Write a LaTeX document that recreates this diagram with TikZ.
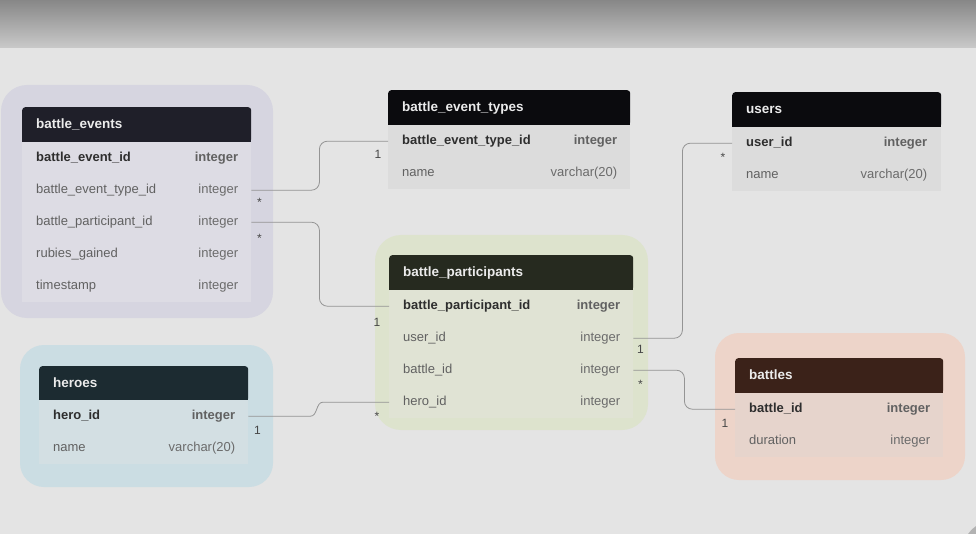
\documentclass[tikz,border=0pt]{standalone}
\usepackage{fontspec}
\setmainfont{Liberation Sans}
\usetikzlibrary{calc}

\definecolor{bg}{HTML}{E4E4E4}
\definecolor{grpA}{HTML}{D6D5E0}
\definecolor{bdA}{HTML}{DDDCE4}
\definecolor{hdA}{HTML}{1F1F29}
\definecolor{bdB}{HTML}{DCDCDC}
\definecolor{hdB}{HTML}{0B0B0E}
\definecolor{grpC}{HTML}{DDE3CD}
\definecolor{bdC}{HTML}{E0E3D4}
\definecolor{hdC}{HTML}{262A1F}
\definecolor{grpD}{HTML}{CBDDE3}
\definecolor{bdD}{HTML}{D3DFE3}
\definecolor{hdD}{HTML}{1C2B31}
\definecolor{grpE}{HTML}{EDD4C9}
\definecolor{bdE}{HTML}{E6D4CC}
\definecolor{hdE}{HTML}{3B2219}

\begin{document}
\begin{tikzpicture}[x=1pt,y=-1pt,
  head/.style={anchor=north west, rounded corners=3, inner xsep=14, inner ysep=0,
    minimum height=35, text height=10, text depth=3, text=white!92!black,
    font=\fontsize{13.5}{16}\selectfont\bfseries, align=left},
  row/.style={anchor=north west, inner sep=0, minimum height=32},
  fld/.style={anchor=west, inner sep=0, text height=10, text depth=3, text=black!62,
    font=\fontsize{13}{15}\selectfont},
  typ/.style={anchor=east, inner sep=0, text height=10, text depth=3, text=black!58,
    font=\fontsize{13}{15}\selectfont},
  key/.style={text=black!82, font=\fontsize{13}{15}\selectfont\bfseries},
  conn/.style={draw=black!42, line width=0.8, rounded corners=8},
  card/.style={inner sep=0, text=black!72, font=\fontsize{12}{14}\selectfont}]

\useasboundingbox (0,0) rectangle (976,534);
\fill[bg] (0,0) rectangle (976,534);
\shade[top color=black!47, bottom color=black!21] (0,0) rectangle (976,48);
\fill[black!30] (990,548) circle (26);

% battle_events
\fill[grpA, rounded corners=26] (1,85) rectangle (273,318);
\node[head, fill=hdA, text width=201] (be) at (22,107) {battle\_events};
\fill[hdA] ([yshift=4]be.south west) rectangle (be.south east);
\node[row, fill=bdA, minimum width=229] (be0) at (22,142) {};
\node[fld, key] at ([xshift=14]be0.west) {battle\_event\_id};
\node[typ, key, text=black!62] at ([xshift=-13]be0.east) {integer};
\foreach \f/\t [count=\i] in {battle\_event\_type\_id/integer, battle\_participant\_id/integer,
    rubies\_gained/integer, timestamp/integer} {
  \node[row, fill=bdA, minimum width=229] (be\i) at (22,142+32*\i) {};
  \node[fld] at ([xshift=14]be\i.west) {\f};
  \node[typ] at ([xshift=-13]be\i.east) {\t};
}

% battle_event_types
\node[head, fill=hdB, text width=214] (bet) at (388,90) {battle\_event\_types};
\fill[hdB] ([yshift=4]bet.south west) rectangle (bet.south east);
\node[row, fill=bdB, minimum width=242] (bet0) at (388,125) {};
\node[fld, key] at ([xshift=14]bet0.west) {battle\_event\_type\_id};
\node[typ, key, text=black!62] at ([xshift=-13]bet0.east) {integer};
\node[row, fill=bdB, minimum width=242] (bet1) at (388,157) {};
\node[fld] at ([xshift=14]bet1.west) {name};
\node[typ] at ([xshift=-13]bet1.east) {varchar(20)};

% users
\node[head, fill=hdB, text width=181] (us) at (732,92) {users};
\fill[hdB] ([yshift=4]us.south west) rectangle (us.south east);
\node[row, fill=bdB, minimum width=209] (us0) at (732,127) {};
\node[fld, key] at ([xshift=14]us0.west) {user\_id};
\node[typ, key, text=black!62] at ([xshift=-14]us0.east) {integer};
\node[row, fill=bdB, minimum width=209] (us1) at (732,159) {};
\node[fld] at ([xshift=14]us1.west) {name};
\node[typ] at ([xshift=-14]us1.east) {varchar(20)};

% battle_participants
\fill[grpC, rounded corners=26] (375,235) rectangle (648,430);
\node[head, fill=hdC, text width=216] (bp) at (389,255) {battle\_participants};
\fill[hdC] ([yshift=4]bp.south west) rectangle (bp.south east);
\node[row, fill=bdC, minimum width=244] (bp0) at (389,290) {};
\node[fld, key] at ([xshift=14]bp0.west) {battle\_participant\_id};
\node[typ, key, text=black!62] at ([xshift=-13]bp0.east) {integer};
\foreach \f [count=\i] in {user\_id, battle\_id, hero\_id} {
  \node[row, fill=bdC, minimum width=244] (bp\i) at (389,290+32*\i) {};
  \node[fld] at ([xshift=14]bp\i.west) {\f};
  \node[typ] at ([xshift=-13]bp\i.east) {integer};
}

% heroes
\fill[grpD, rounded corners=24] (20,345) rectangle (273,487);
\node[head, fill=hdD, text width=181] (hr) at (39,366) {heroes};
\fill[hdD] ([yshift=4]hr.south west) rectangle (hr.south east);
\node[row, fill=bdD, minimum width=209] (hr0) at (39,400) {};
\node[fld, key] at ([xshift=14]hr0.west) {hero\_id};
\node[typ, key, text=black!62] at ([xshift=-13]hr0.east) {integer};
\node[row, fill=bdD, minimum width=209] (hr1) at (39,432) {};
\node[fld] at ([xshift=14]hr1.west) {name};
\node[typ] at ([xshift=-13]hr1.east) {varchar(20)};

% battles
\fill[grpE, rounded corners=24] (715,333) rectangle (965,480);
\node[head, fill=hdE, text width=180] (bt) at (735,358) {battles};
\fill[hdE] ([yshift=4]bt.south west) rectangle (bt.south east);
\node[row, fill=bdE, minimum width=208] (bt0) at (735,393) {};
\node[fld, key] at ([xshift=14]bt0.west) {battle\_id};
\node[typ, key, text=black!62] at ([xshift=-13]bt0.east) {integer};
\node[row, fill=bdE, minimum width=208] (bt1) at (735,425) {};
\node[fld] at ([xshift=14]bt1.west) {duration};
\node[typ] at ([xshift=-13]bt1.east) {integer};

% relations
\draw[conn] (be1.east) -- ++(68,0) |- (bet0.west);
\draw[conn] (be2.east) -- ++(68,0) |- (bp0.west);
\draw[conn, rounded corners=0] (hr0.east) -- ++(62,0)
  to[out=0,in=180] ($(bp3.west)+(-66,0)$) -- (bp3.west);
\draw[conn] (bp1.east) -- ++(49,0) |- (us0.west);
\draw[conn] (bp2.east) -- ++(51,0) |- (bt0.west);

\node[card] (c1a) at ([shift={(8,12)}]be1.east) {*};
\node[card] (c1b) at ([shift={(-10,13)}]bet0.west) {1};
\node[card] (c2a) at ([shift={(8,16)}]be2.east) {*};
\node[card] (c2b) at ([shift={(-12,16)}]bp0.west) {1};
\node[card] (c3a) at ([shift={(9,14)}]hr0.east) {1};
\node[card] (c3b) at ([shift={(-12,14)}]bp3.west) {*};
\node[card] (c4a) at ([shift={(7,11)}]bp1.east) {1};
\node[card] (c4b) at ([shift={(-9,14)}]us0.west) {*};
\node[card] (c5a) at ([shift={(7,14)}]bp2.east) {*};
\node[card] (c5b) at ([shift={(-10,14)}]bt0.west) {1};

\end{tikzpicture}
\end{document}
